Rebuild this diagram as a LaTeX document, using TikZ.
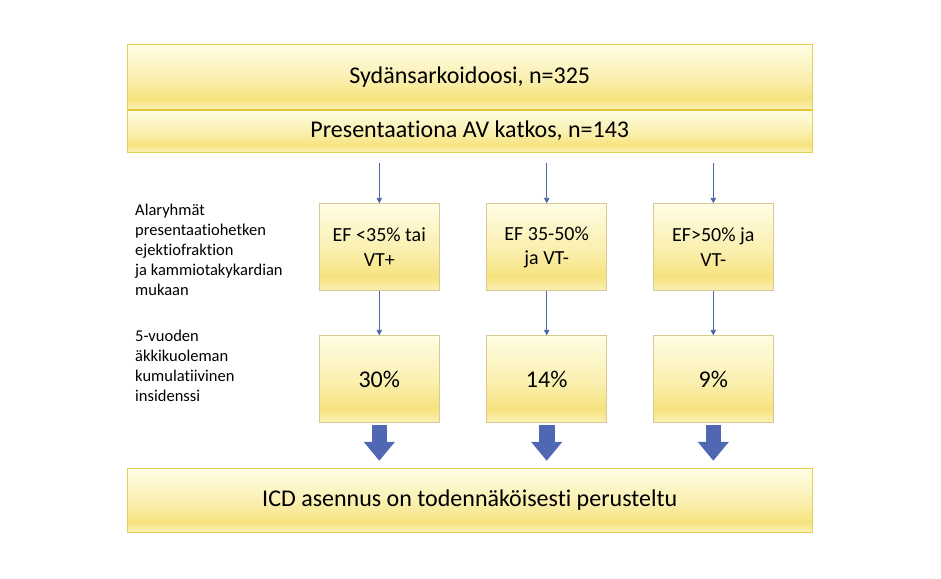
\documentclass[tikz,border=0pt]{standalone}
\usepackage{fontspec}
\setmainfont{Carlito}[RawFeature=-liga]
\usetikzlibrary{arrows.meta}
\definecolor{ytop}{HTML}{FFFDE4}
\definecolor{ymid}{HTML}{FAEFAE}
\definecolor{ydeep}{HTML}{F6E37E}
\definecolor{ybot}{HTML}{FBF1B6}
\definecolor{bigedge}{HTML}{E3D05A}
\definecolor{smalledge}{HTML}{D8C894}
\definecolor{divgold}{HTML}{E8C532}
\definecolor{linkblue}{HTML}{4A64A8}
\definecolor{fatblue}{HTML}{5068B4}
\pgfdeclareverticalshading{ybox}{100bp}{color(0bp)=(ybot); color(25bp)=(ybot); color(33bp)=(ydeep); color(48bp)=(ymid); color(75bp)=(ytop); color(100bp)=(ytop)}
\begin{document}
\begin{tikzpicture}[x=1pt,y=1pt,
	bigbox/.style={draw=bigedge, line width=1pt, shade, shading=ybox, minimum width=685.5pt, inner sep=0pt, font=\fontsize{24}{29}\selectfont},
	smallbox/.style={draw=smalledge, line width=0.8pt, shade, shading=ybox, minimum width=120pt, minimum height=87pt, inner sep=0pt, align=center},
	flowarrow/.style={draw=linkblue, line width=0.9pt, -{Triangle[width=5.5pt,length=5.5pt]}},
	fatarrow/.style={draw=fatblue, line width=15.6pt, -{Triangle[width=30pt,length=19pt]}},
	sidetext/.style={anchor=west, align=left, inner sep=0pt, font=\fontsize{16.5}{20}\selectfont}]
		\useasboundingbox (0,0) rectangle (941,-578);
		
		%Top boxes
		\node[bigbox, minimum height=64pt] (S) at (469.8,-77) {Sydänsarkoidoosi, n=325};
		\node[bigbox, minimum height=43pt] (P) at (469.8,-130.5) {Presentaationa AV katkos, n=143};
		\draw[divgold, line width=2pt] (S.south west) -- (S.south east);
		
		%Side texts
		\node[sidetext] (T1) at (135,-250) {Alaryhmät\\presentaatiohetken\\ejektiofraktion\\ja kammiotakykardian\\mukaan};
		\node[sidetext] (T2) at (135,-366) {5-vuoden\\äkkikuoleman\\kumulatiivinen\\insidenssi};
		
		%Column 1
		\node[smallbox, font=\fontsize{20}{24.3}\selectfont] (E1) at (379.3,-247.2) {EF <35\% tai\\VT+};
		\node[smallbox, font=\fontsize{24}{29}\selectfont] (R1) at (379.3,-379.2) {30\%};
		
		%Column 2
		\node[smallbox, font=\fontsize{20}{24.3}\selectfont] (E2) at (546.7,-247.2) {EF 35-50\%\\ja VT-};
		\node[smallbox, font=\fontsize{24}{29}\selectfont] (R2) at (546.7,-379.2) {14\%};
		
		%Column 3
		\node[smallbox, font=\fontsize{20}{24.3}\selectfont] (E3) at (713.3,-247.2) {EF>50\% ja\\VT-};
		\node[smallbox, font=\fontsize{24}{29}\selectfont] (R3) at (713.3,-379.2) {9\%};
		
		%Bottom box
		\node[bigbox, minimum height=64pt] (I) at (469.8,-500.3) {ICD asennus on todennäköisesti perusteltu};
		
		%Arrows
		\foreach \c in {1,2,3}{
			\draw[flowarrow] ([yshift=-10.7pt]E\c.north |- P.south) -- (E\c.north);
			\draw[flowarrow] (E\c.south) -- (R\c.north);
			\draw[fatarrow] ([yshift=-2pt]R\c.south) -- ([yshift=7pt]R\c.south |- I.north);
		}
		
	\end{tikzpicture}
\end{document}
